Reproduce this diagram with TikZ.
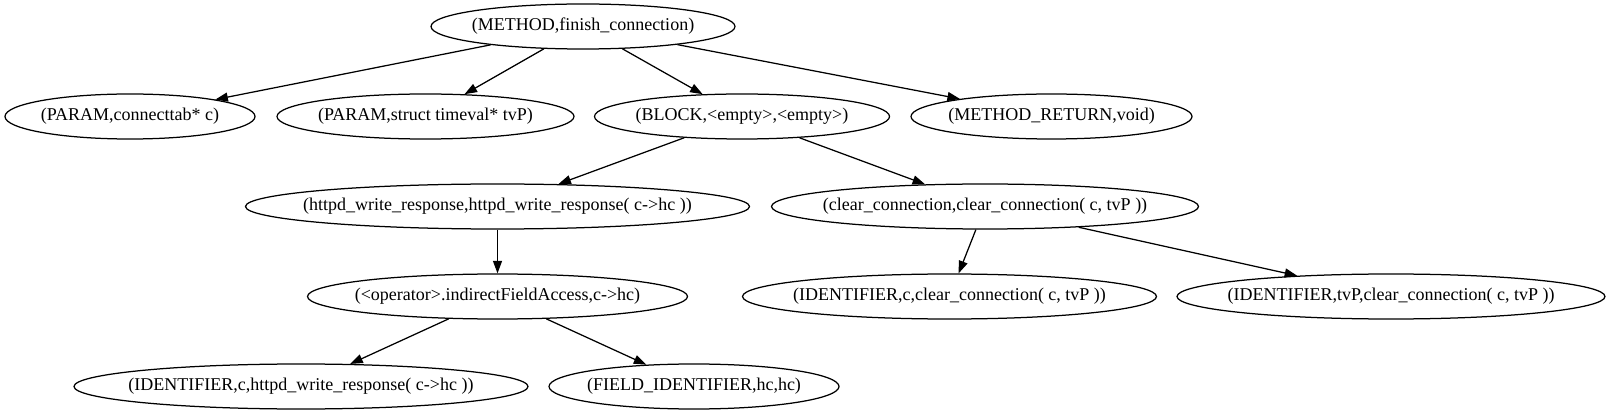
\documentclass[tikz,border=0pt]{standalone}
\usepackage{fontspec}
\setmainfont{Liberation Serif}
\usetikzlibrary{shapes.geometric,arrows.meta}
\tikzset{
  gnode/.style={draw=black, line width=1.25pt, ellipse, inner sep=0pt, minimum height=45pt, font=\rmfamily\fontsize{18pt}{20pt}\selectfont},
  gedge/.style={draw=black, line width=1.25pt, -{Triangle[length=12.5pt,width=9pt]}}
}
\newcommand{\gtext}[1]{\raisebox{-1.5pt}{\makebox[0pt]{#1}}}
\begin{document}
\begin{tikzpicture}[x=1pt,y=1pt]
\useasboundingbox (0,0) rectangle (1616,415);
\node[gnode, minimum width=304pt] (M) at (583,388.5) {\gtext{(METHOD,finish\_connection)}};
\node[gnode, minimum width=250pt] (P1) at (130,298.5) {\gtext{(PARAM,connecttab* c)}};
\node[gnode, minimum width=297pt] (P2) at (425.5,298.5) {\gtext{(PARAM,struct timeval* tvP)}};
\node[gnode, minimum width=295pt] (B) at (742,298.5) {\gtext{(BLOCK,<empty>,<empty>)}};
\node[gnode, minimum width=281pt] (R) at (1051.5,298.5) {\gtext{(METHOD\_RETURN,void)}};
\node[gnode, minimum width=504pt] (H) at (497.5,208.5) {\gtext{(httpd\_write\_response,httpd\_write\_response( c->hc ))}};
\node[gnode, minimum width=427pt] (C) at (985,208.5) {\gtext{(clear\_connection,clear\_connection( c, tvP ))}};
\node[gnode, minimum width=380pt] (O) at (497.5,118.5) {\gtext{(<operator>.indirectFieldAccess,c->hc)}};
\node[gnode, minimum width=414pt] (I1) at (949.5,118.5) {\gtext{(IDENTIFIER,c,clear\_connection( c, tvP ))}};
\node[gnode, minimum width=428pt] (I2) at (1391,118.5) {\gtext{(IDENTIFIER,tvP,clear\_connection( c, tvP ))}};
\node[gnode, minimum width=454pt] (I3) at (301,28.5) {\gtext{(IDENTIFIER,c,httpd\_write\_response( c->hc ))}};
\node[gnode, minimum width=290pt] (F) at (694,28.5) {\gtext{(FIELD\_IDENTIFIER,hc,hc)}};
\path[gedge] (M) -- (P1);
\path[gedge] (M) -- (P2);
\path[gedge] (M) -- (B);
\path[gedge] (M) -- (R);
\path[gedge] (B) -- (H);
\path[gedge] (B) -- (C);
\path[gedge] (H) -- (O);
\path[gedge] (O) -- (I3);
\path[gedge] (O) -- (F);
\path[gedge] (C) -- (I1);
\path[gedge] (C) -- (I2);
\end{tikzpicture}
\end{document}
